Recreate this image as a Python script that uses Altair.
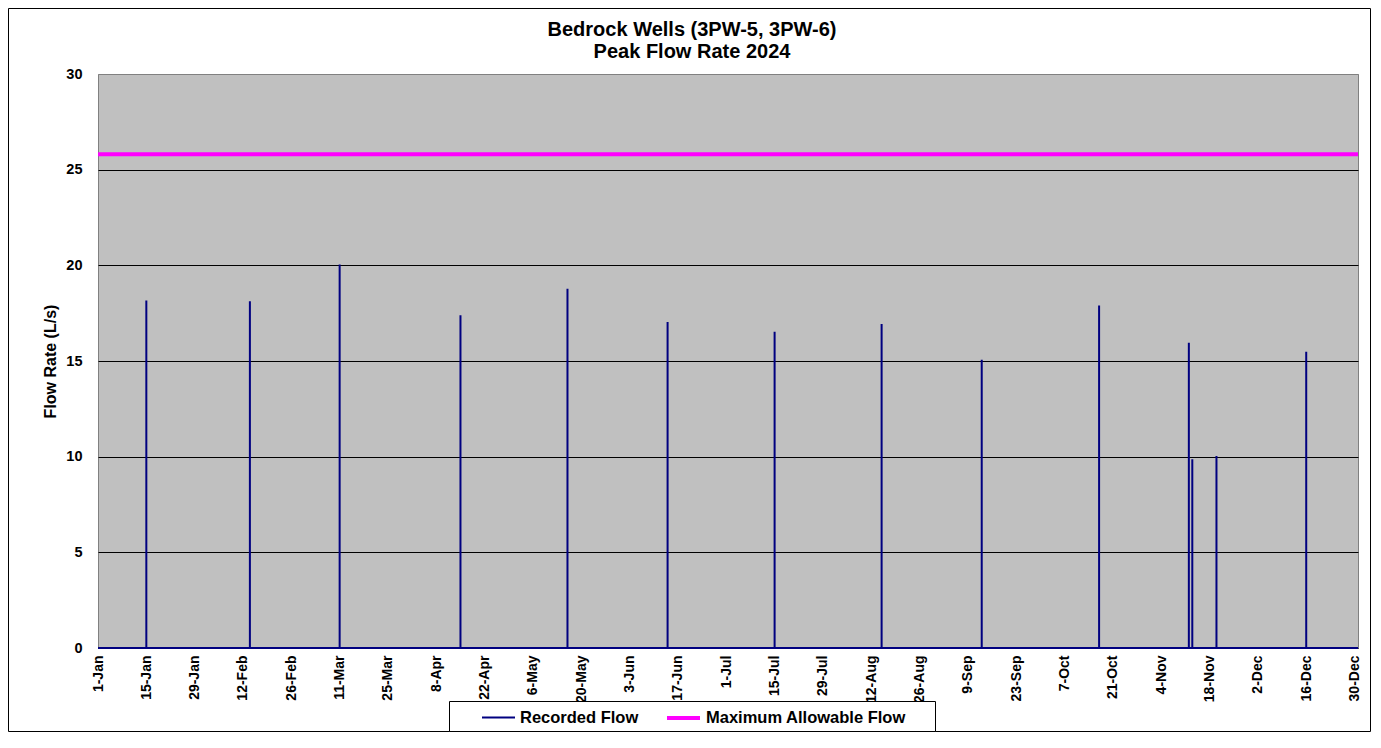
import altair as alt
import pandas as pd

# ---- data ----
spike_dates = ["2024-01-15", "2024-02-14", "2024-03-11", "2024-04-15", "2024-05-16",
               "2024-06-14", "2024-07-15", "2024-08-15", "2024-09-13", "2024-10-17",
               "2024-11-12", "2024-11-13", "2024-11-20", "2024-12-16"]
spike_values = [18.16, 18.12, 20.04, 17.39, 18.77, 17.04, 16.53, 16.94, 15.07, 17.90,
                15.96, 9.87, 10.04, 15.49]
max_allowable = 25.8
year_start = "2024-01-01"
year_end = "2024-12-31"

tick_dates = ["2024-01-01", "2024-01-15", "2024-01-29", "2024-02-12", "2024-02-26",
              "2024-03-11", "2024-03-25", "2024-04-08", "2024-04-22", "2024-05-06",
              "2024-05-20", "2024-06-03", "2024-06-17", "2024-07-01", "2024-07-15",
              "2024-07-29", "2024-08-12", "2024-08-26", "2024-09-09", "2024-09-23",
              "2024-10-07", "2024-10-21", "2024-11-04", "2024-11-18", "2024-12-02",
              "2024-12-16", "2024-12-30"]
y_ticks = [0, 5, 10, 15, 20, 25, 30]

series_names = ["Recorded Flow", "Maximum Allowable Flow"]
series_colors = ["#000080", "#FF00FF"]
series_widths = [2, 4]

title_lines = ["Bedrock Wells (3PW-5, 3PW-6)", "Peak Flow Rate 2024"]
y_title = "Flow Rate (L/s)"

FONT = "Liberation Sans"
W, H = 1260, 574
PAD = {"left": 90, "top": 66, "right": 13, "bottom": 84}

# ---- build tables ----
rows = []
seq = 0
rows.append({"date": year_start, "flow": 0.0, "series": series_names[0], "seq": seq})
for d, v in zip(spike_dates, spike_values):
    for val in (0.0, v, 0.0):
        seq += 1
        rows.append({"date": d, "flow": val, "series": series_names[0], "seq": seq})
seq += 1
rows.append({"date": year_end, "flow": 0.0, "series": series_names[0], "seq": seq})
rows.append({"date": year_start, "flow": max_allowable, "series": series_names[1], "seq": 0})
rows.append({"date": year_end, "flow": max_allowable, "series": series_names[1], "seq": 1})
df = pd.DataFrame(rows)


def dt(s):
    y, m, d = (int(p) for p in s.split("-"))
    return alt.DateTime(year=y, month=m, date=d, utc=True)


legend = alt.Legend(
    title=None, orient="none", legendX=383, legendY=625.5, direction="horizontal",
    symbolType="stroke", symbolSize=1089, labelFont=FONT, labelFontSize=16.5,
    labelFontWeight="bold", labelColor="black", columnPadding=20, labelOffset=4,
    labelLimit=400, padding=0,
)

lines = alt.Chart(df).mark_line().encode(
    x=alt.X("date:T",
            scale=alt.Scale(type="utc", domain=[dt(year_start), dt(year_end)], nice=False),
            axis=alt.Axis(values=[dt(t) for t in tick_dates],
                          labelExpr="utcFormat(datum.value, '%-d-%b')",
                          labelAngle=270, labelFont=FONT, labelFontSize=14,
                          labelFontWeight="bold", labelColor="black", labelPadding=7,
                          ticks=False, tickSize=0, domain=False, grid=False, title=None,
                          labelOverlap=False, labelFlush=False, labelBound=False)),
    y=alt.Y("flow:Q",
            scale=alt.Scale(domain=[0, 30], nice=False),
            axis=alt.Axis(values=y_ticks, title=y_title, grid=True,
                          gridColor={"condition": {"test": "datum.value === 30", "value": "#808080"},
                                     "value": "#000000"},
                          gridWidth=1, ticks=False, tickSize=0, domain=False,
                          labelFont=FONT, labelFontSize=14.5, labelFontWeight="bold",
                          labelColor="black", labelPadding=16,
                          titleFont=FONT, titleFontSize=16, titleFontWeight="bold",
                          titleColor="black", titleX=-43, titleY=H / 2, titleAngle=270,
                          titleAlign="center", titleBaseline="alphabetic")),
    color=alt.Color("series:N", scale=alt.Scale(domain=series_names, range=series_colors),
                    legend=legend),
    strokeWidth=alt.StrokeWidth("series:N",
                                scale=alt.Scale(domain=series_names, range=series_widths),
                                legend=legend),
    order=alt.Order("seq:Q"),
)

# decorative frames (outer chart border and legend box)
frame = alt.Chart(alt.Data(values=[{}])).mark_rect(
    fillOpacity=0, stroke="black", strokeWidth=1
).encode(
    x=alt.value(-PAD["left"] + 0.5), x2=alt.value(W + PAD["right"] - 0.5),
    y=alt.value(-PAD["top"] + 0.5), y2=alt.value(H + PAD["bottom"] - 0.5),
)
legend_box = alt.Chart(alt.Data(values=[{}])).mark_rect(
    fill="white", stroke="black", strokeWidth=1
).encode(
    x=alt.value(351.5), x2=alt.value(837.5), y=alt.value(627.5), y2=alt.value(657.5),
)

chart = alt.layer(frame, legend_box, lines).properties(
    width=W, height=H,
    padding=PAD,
    autosize=alt.AutoSizeParams(type="none"),
    background="white",
    title=alt.TitleParams(text=title_lines, font=FONT, fontSize=20, fontWeight="bold",
                          color="black", anchor="middle", dx=-36, offset=-54,
                          lineHeight=22),
).configure_view(
    fill="#C0C0C0", stroke="#808080", strokeWidth=1
)

chart.save("out.html", embed_options={"renderer": "svg", "actions": False})
